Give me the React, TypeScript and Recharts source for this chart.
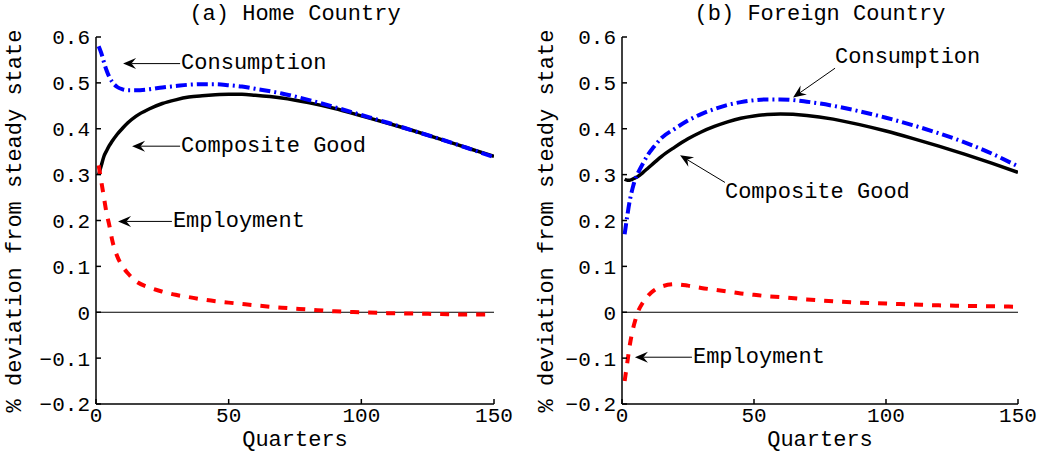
import { Line, LineChart, ReferenceLine, XAxis, YAxis } from "recharts";

// quarters sampled for every series
const quarters = [1, 2, 3, 4, 5, 6, 8, 10, 12, 15, 20, 25, 30, 35, 40, 45, 50, 55, 60, 70, 80, 90, 100, 110, 120, 130, 140, 150];

const homeConsumption = [0.58, 0.565, 0.545, 0.527, 0.513, 0.503, 0.491, 0.486, 0.484, 0.484, 0.486, 0.49, 0.493, 0.496, 0.497, 0.497, 0.495, 0.492, 0.487, 0.477, 0.463, 0.447, 0.43, 0.413, 0.395, 0.377, 0.358, 0.338];
const homeComposite = [0.3, 0.32, 0.34, 0.352, 0.363, 0.372, 0.388, 0.401, 0.413, 0.427, 0.443, 0.455, 0.463, 0.469, 0.472, 0.474, 0.475, 0.475, 0.473, 0.467, 0.457, 0.444, 0.428, 0.412, 0.395, 0.377, 0.358, 0.34];
const homeEmployment = [0.32, 0.285, 0.25, 0.215, 0.19, 0.16, 0.122, 0.1, 0.085, 0.068, 0.054, 0.045, 0.038, 0.033, 0.028, 0.024, 0.021, 0.018, 0.015, 0.01, 0.006, 0.002, 0, -0.002, -0.003, -0.004, -0.005, -0.005];

const foreignConsumption = [0.17, 0.21, 0.245, 0.27, 0.29, 0.303, 0.325, 0.345, 0.36, 0.38, 0.4, 0.418, 0.432, 0.443, 0.452, 0.458, 0.462, 0.464, 0.464, 0.459, 0.45, 0.438, 0.424, 0.408, 0.39, 0.37, 0.346, 0.318];
const foreignComposite = [0.29, 0.288, 0.288, 0.29, 0.293, 0.296, 0.305, 0.315, 0.325, 0.34, 0.36, 0.378, 0.393, 0.405, 0.415, 0.423, 0.428, 0.431, 0.432, 0.429, 0.421, 0.409, 0.395, 0.379, 0.362, 0.344, 0.325, 0.305];
const foreignEmployment = [-0.15, -0.11, -0.07, -0.04, -0.018, 0, 0.022, 0.037, 0.047, 0.056, 0.061, 0.058, 0.053, 0.049, 0.045, 0.041, 0.038, 0.035, 0.033, 0.028, 0.024, 0.021, 0.019, 0.017, 0.015, 0.014, 0.013, 0.012];

const xTicks = [0, 50, 100, 150];
const yTicks = [-0.2, -0.1, 0, 0.1, 0.2, 0.3, 0.4, 0.5, 0.6];

type Note = { text: string; tail: [number, number]; tip: [number, number]; dx: number; dy: number };

const homeNotes: Note[] = [
  { text: "Consumption", tail: [31.7, 0.542], tip: [10.2, 0.542], dx: 1, dy: 0 },
  { text: "Composite Good", tail: [31.7, 0.362], tip: [13.6, 0.362], dx: 1, dy: 0 },
  { text: "Employment", tail: [28.6, 0.198], tip: [8.3, 0.198], dx: 1, dy: 0 },
];
const foreignNotes: Note[] = [
  { text: "Consumption", tail: [80.7, 0.532], tip: [64.8, 0.468], dx: 0, dy: -11 },
  { text: "Composite Good", tail: [39, 0.283], tip: [22, 0.342], dx: 0, dy: 10 },
  { text: "Employment", tail: [26.5, -0.098], tip: [4.9, -0.098], dx: 1, dy: 0 },
];

const FONT = "'Liberation Mono', 'DejaVu Sans Mono', monospace";

const toRows = (vals: number[]) => quarters.map((q, i) => ({ q, v: vals[i] }));
const fmtY = (v: number) => (v === 0 ? "0" : v < 0 ? "\u2212" + Math.abs(v).toFixed(1) : v.toFixed(1));

function arrowShape(note: Note) {
  return (p: any) => {
    const { x1, y1, x2, y2 } = p;
    const a = Math.atan2(y2 - y1, x2 - x1);
    const c = Math.cos(a);
    const s = Math.sin(a);
    const L = 13;
    const W = 5.5;
    const bx = x2 - L * c;
    const by = y2 - L * s;
    const nx = x2 - 0.65 * L * c;
    const ny = y2 - 0.65 * L * s;
    const pts = `${x2},${y2} ${bx - W * s},${by + W * c} ${nx},${ny} ${bx + W * s},${by - W * c}`;
    return (
      <g>
        <line x1={x1} y1={y1} x2={nx} y2={ny} stroke="#000" strokeWidth={1} />
        <polygon points={pts} fill="#000" />
        <text x={x1 + note.dx} y={y1 + note.dy} dominantBaseline="central" fontFamily={FONT} fontSize={22} fill="#000">
          {note.text}
        </text>
      </g>
    );
  };
}

function Panel(props: {
  left: number;
  width: number;
  marginRight: number;
  consumption: number[];
  composite: number[];
  employment: number[];
  notes: Note[];
}) {
  const { left, width, marginRight, consumption, composite, employment, notes } = props;
  const tickStyle = { fill: "#000", fontFamily: FONT, fontSize: 21 };
  return (
    <div style={{ position: "absolute", left, top: 0 }}>
      <LineChart width={width} height={454} margin={{ top: 37, right: marginRight, bottom: 0, left: 0 }}>
        <XAxis dataKey="q" type="number" domain={[0, 150]} ticks={xTicks} height={50} allowDataOverflow
          stroke="#000" strokeWidth={1.5} tickSize={-5} tickMargin={8} tick={tickStyle} />
        <XAxis xAxisId="top" orientation="top" dataKey="q" type="number" domain={[0, 150]} ticks={xTicks} height={0}
          stroke="#000" strokeWidth={1.5} tickSize={-5} tick={false} />
        <YAxis type="number" domain={[-0.2, 0.6]} ticks={yTicks} width={96} allowDataOverflow
          stroke="#000" strokeWidth={1.5} tickSize={-5} tickMargin={11} tick={tickStyle} tickFormatter={fmtY} />
        <YAxis yAxisId="right" orientation="right" type="number" domain={[-0.2, 0.6]} ticks={yTicks} width={0}
          stroke="#000" strokeWidth={1.5} tickSize={-5} tick={false} />
        <ReferenceLine y={0} stroke="#000" strokeWidth={1} />
        <Line data={toRows(composite)} dataKey="v" type="monotone" stroke="#000" strokeWidth={3.5} dot={false} isAnimationActive={false} />
        <Line data={toRows(consumption)} dataKey="v" type="monotone" stroke="#0000ff" strokeWidth={4} strokeDasharray="11 4 2 4" dot={false} isAnimationActive={false} />
        <Line data={toRows(employment)} dataKey="v" type="monotone" stroke="#ff0000" strokeWidth={4} strokeDasharray="9 9" dot={false} isAnimationActive={false} />
        {notes.map((n) => (
          <ReferenceLine key={n.text} segment={[{ x: n.tail[0], y: n.tail[1] }, { x: n.tip[0], y: n.tip[1] }]} shape={arrowShape(n)} />
        ))}
      </LineChart>
    </div>
  );
}

const textStyle = { position: "absolute" as const, fontFamily: FONT, fontSize: 22, lineHeight: "22px", color: "#000", whiteSpace: "nowrap" as const, textAlign: "center" as const };

export default function App() {
  return (
    <div style={{ position: "absolute", left: 0, top: 0, width: 1045, height: 454, background: "#fff" }}>
      <Panel left={0} width={522} marginRight={28} consumption={homeConsumption} composite={homeComposite} employment={homeEmployment} notes={homeNotes} />
      <Panel left={526} width={519} marginRight={27} consumption={foreignConsumption} composite={foreignComposite} employment={foreignEmployment} notes={foreignNotes} />
      <div style={{ ...textStyle, left: 95, width: 400, top: 4 }}>(a) Home Country</div>
      <div style={{ ...textStyle, left: 620, width: 400, top: 4 }}>(b) Foreign Country</div>
      <div style={{ ...textStyle, left: 95, width: 400, top: 430 }}>Quarters</div>
      <div style={{ ...textStyle, left: 620, width: 400, top: 430 }}>Quarters</div>
      <div style={{ ...textStyle, left: 16 - 200, width: 400, top: 221 - 11, transform: "rotate(-90deg)" }}>% deviation from steady state</div>
      <div style={{ ...textStyle, left: 548 - 200, width: 400, top: 221 - 11, transform: "rotate(-90deg)" }}>% deviation from steady state</div>
    </div>
  );
}
